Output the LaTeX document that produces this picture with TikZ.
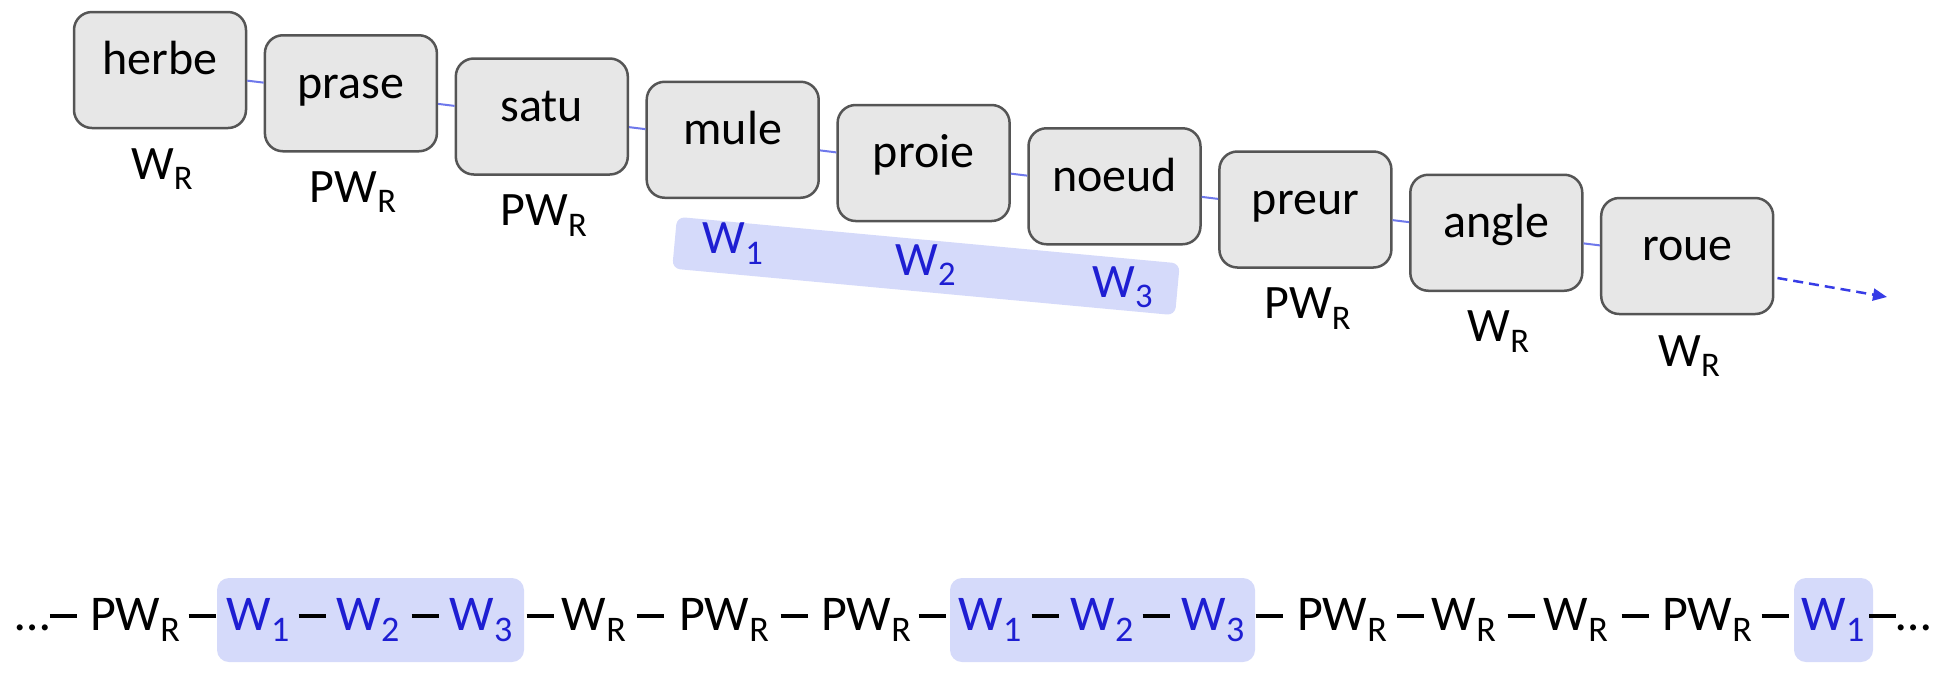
\documentclass[tikz,border=0pt]{standalone}
\usepackage{fontspec}
\setmainfont{Carlito}
\usetikzlibrary{arrows.meta,calc}
\definecolor{boxfill}{RGB}{231,231,231}
\definecolor{boxline}{RGB}{85,85,85}
\definecolor{hlfill}{RGB}{213,218,250}
\definecolor{wblue}{RGB}{30,30,210}
\definecolor{linkblue}{RGB}{110,120,235}
\definecolor{arrowblue}{RGB}{55,60,230}
\newcommand\mysub[1]{\raisebox{-0.22em}{\scalebox{0.72}{#1}}}
\newcommand\WR{W\mysub{R}}
\newcommand\PWR{PW\mysub{R}}
\newcommand\Wi[1]{W\mysub{#1}}
\newcommand\mydash{\rule[0.25em]{0.54em}{0.075em}}
\begin{document}
\begin{tikzpicture}[x=0.5pt,y=-0.5pt,
  wordbox/.style={draw=boxline, fill=boxfill, line width=1.25pt, rounded corners=9pt,
    minimum width=86pt, minimum height=58pt, inner sep=0pt,
    font=\fontsize{24}{28}\selectfont, text height=0.7em, text depth=0.22em},
  lab/.style={anchor=base, inner sep=0pt, font=\fontsize{24}{28}\selectfont},
  wlab/.style={lab, text=wblue},
  link/.style={draw=linkblue, line width=1pt},
  band/.style={fill=hlfill, rounded corners=4pt, minimum width=252.5pt, minimum height=26pt, inner sep=0pt},
  tok/.style={anchor=base, inner sep=0pt, font=\fontsize{25}{30}\selectfont},
  wtok/.style={tok, text=wblue},
  hl/.style={fill=hlfill, rounded corners=6pt, inner sep=0pt, minimum height=42pt},
]
\useasboundingbox (0,0) rectangle (1945,682);

% highlighted band behind W1 W2 W3
\node[band, rotate=-5.3] (bandW) at (926,266) {};

% word boxes
\node[wordbox] (herbe) at (160,70) {herbe};
\node[wordbox] (prase) at (350.9,93.25) {prase};
\node[wordbox] (satu)  at (541.8,116.5) {satu};
\node[wordbox] (mule)  at (732.7,139.75) {mule};
\node[wordbox] (proie) at (923.6,163) {proie};
\node[wordbox] (noeud) at (1114.5,186.25) {noeud};
\node[wordbox] (preur) at (1305.4,209.5) {preur};
\node[wordbox] (angle) at (1496.3,232.75) {angle};
\node[wordbox] (roue)  at (1687.2,256) {roue};

% links
\draw[link] (herbe) -- (prase);
\draw[link] (prase) -- (satu);
\draw[link] (satu) -- (mule);
\draw[link] (mule) -- (proie);
\draw[link] (proie) -- (noeud);
\draw[link] (noeud) -- (preur);
\draw[link] (preur) -- (angle);
\draw[link] (angle) -- (roue);

\coordinate (arrowend) at (1887,297);
\draw[draw=arrowblue, line width=1.25pt, dash pattern=on 5pt off 3pt,
  -{Triangle[length=7pt,width=6pt]}] ($(roue.east)+(3,22)$) -- (arrowend);

% labels under boxes
\node[lab] (lherbe) at ($(herbe)+(2,109)$) {\WR};
\node[lab] (lprase) at ($(prase)+(2,109)$) {\PWR};
\node[lab] (lsatu)  at ($(satu)+(2,109)$) {\PWR};
\node[wlab] (lmule)  at ($(mule)+(0,114)$) {\Wi1};
\node[wlab] (lproie) at ($(proie)+(2,112)$) {\Wi2};
\node[wlab] (lnoeud) at ($(noeud)+(8,111)$) {\Wi3};
\node[lab] (lpreur) at ($(preur)+(2,109)$) {\PWR};
\node[lab] (langle) at ($(angle)+(2,109)$) {\WR};
\node[lab] (lroue)  at ($(roue)+(2,110)$) {\WR};

% bottom line highlights
\node[hl, minimum width=153.5pt] (hl1) at (370.5,620) {};
\node[hl, minimum width=152.5pt] (hl2) at (1102.5,620) {};
\node[hl, minimum width=39.5pt] (hl3) at (1833.5,620) {};

% bottom line tokens
\foreach \x/\t/\s [count=\i] in {
  46/{…\mydash}/tok, 135/\PWR/tok, 202/\mydash/tok,
  258/\Wi1/wtok, 312/\mydash/tok, 368/\Wi2/wtok, 425/\mydash/tok, 481/\Wi3/wtok,
  540/\mydash/tok, 594/\WR/tok, 650/\mydash/tok, 724/\PWR/tok, 794/\mydash/tok, 866/\PWR/tok, 932/\mydash/tok,
  990/\Wi1/wtok, 1045/\mydash/tok, 1102/\Wi2/wtok, 1156/\mydash/tok, 1213/\Wi3/wtok,
  1269/\mydash/tok, 1342/\PWR/tok, 1410/\mydash/tok, 1464/\WR/tok, 1521/\mydash/tok, 1576/\WR/tok,
  1635/\mydash/tok, 1707/\PWR/tok, 1775/\mydash/tok,
  1833/\Wi1/wtok, 1900/{\mydash…}/tok}
  \node[\s] (t\i) at (\x,630) {\t};
\end{tikzpicture}
\end{document}
